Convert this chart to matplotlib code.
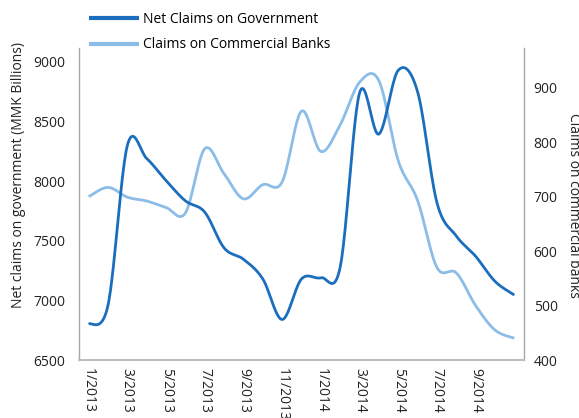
import numpy as np
import matplotlib
matplotlib.use("Agg")
import matplotlib.pyplot as plt

plt.rcParams['font.family'] = ['Open Sans', 'DejaVu Sans']

months = ["1/2013", "2/2013", "3/2013", "4/2013", "5/2013", "6/2013", "7/2013",
          "8/2013", "9/2013", "10/2013", "11/2013", "12/2013", "1/2014", "2/2014",
          "3/2014", "4/2014", "5/2014", "6/2014", "7/2014", "8/2014", "9/2014",
          "10/2014", "11/2014"]

net_claims_gov = [6800, 6960, 8300, 8190, 8005, 7835, 7740, 7440, 7345, 7180,
                  6840, 7180, 7190, 7280, 8740, 8395, 8930, 8750, 7820, 7540,
                  7370, 7160, 7045]

claims_comm_banks = [700, 717, 699, 692, 680, 670, 788, 742, 696, 722,
                     727, 857, 783, 832, 910, 913, 766, 693, 570, 560,
                     500, 455, 440]

dark_blue = "#1b6ebe"
light_blue = "#8bbde8"
spine_grey = "#bfbfbf"
text_col = "#222222"
fs = 10


def smooth(xs, ys, steps=24):
    """Catmull-Rom curve through the points (Excel-style smoothed line)."""
    xs = np.asarray(xs, float)
    ys = np.asarray(ys, float)
    px = np.concatenate([[xs[0]], xs, [xs[-1]]])
    py = np.concatenate([[ys[0]], ys, [ys[-1]]])
    out_x, out_y = [], []
    t = np.linspace(0, 1, steps, endpoint=False)
    for i in range(1, len(px) - 2):
        p0, p1, p2, p3 = (np.array([px[j], py[j]]) for j in (i - 1, i, i + 1, i + 2))
        c1 = p1 + (p2 - p0) / 6.0
        c2 = p2 - (p3 - p1) / 6.0
        b = ((1 - t) ** 3)[:, None] * p1 + (3 * (1 - t) ** 2 * t)[:, None] * c1 \
            + (3 * (1 - t) * t ** 2)[:, None] * c2 + (t ** 3)[:, None] * p2
        out_x.extend(b[:, 0])
        out_y.extend(b[:, 1])
    out_x.append(xs[-1])
    out_y.append(ys[-1])
    return np.array(out_x), np.array(out_y)


fig = plt.figure(figsize=(5.79, 4.18), dpi=100)
ax = fig.add_axes([79 / 579, 58 / 418, 445 / 579, 312 / 418])
ax2 = ax.twinx()

x = np.arange(len(months))
sx, sy = smooth(x, net_claims_gov)
l1, = ax.plot(sx, sy, color=dark_blue, lw=2.0, solid_capstyle='butt',
              label="Net Claims on Government", zorder=3)
sx2, sy2 = smooth(x, claims_comm_banks)
l2, = ax2.plot(sx2, sy2, color=light_blue, lw=2.0, solid_capstyle='butt',
               label="Claims on Commercial Banks", zorder=2)
ax.set_zorder(ax2.get_zorder() + 1)
ax.patch.set_visible(False)

ax.set_xlim(-0.5, len(months) - 0.5)
ax.set_ylim(6500, 9117)
ax2.set_ylim(400, 973)
ax.set_yticks([6500, 7000, 7500, 8000, 8500, 9000])
ax2.set_yticks([400, 500, 600, 700, 800, 900])
ax.set_xticks(x[:21:2])
ax.set_xticklabels(months[:21:2], rotation=270, va='top', ha='center')

for a in (ax, ax2):
    a.tick_params(length=0, labelsize=fs, colors=text_col)
    for s in a.spines.values():
        s.set_visible(False)
ax.tick_params(axis='y', pad=10)
ax.tick_params(axis='x', pad=6)
ax2.tick_params(axis='y', pad=7)
ax.spines['left'].set_visible(True)
ax.spines['left'].set_color("#a6a6a6")
ax.spines['left'].set_linewidth(1.0)
ax.spines['bottom'].set_visible(True)
ax.spines['bottom'].set_color(spine_grey)
ax.spines['bottom'].set_linewidth(1.5)
ax2.spines['right'].set_visible(True)
ax2.spines['right'].set_color("#a6a6a6")
ax2.spines['right'].set_linewidth(1.0)

fig.text(19 / 579, 1 - 175 / 418, "Net claims on government (MMK Billions)",
         rotation=90, ha='center', va='center', fontsize=fs, color=text_col)
fig.text(573 / 579, 1 - 205 / 418, "Claims on commercial banks",
         rotation=270, ha='center', va='center', fontsize=fs, color=text_col)

fig.legend(handles=[l1, l2], loc='upper left',
           bbox_to_anchor=(89 / 579, 1 - 12 / 418), frameon=False,
           fontsize=fs, handlelength=3.6, handletextpad=0.3,
           labelspacing=0.75, borderaxespad=0, borderpad=0)
for line in fig.legends[0].get_lines():
    line.set_linewidth(3.0)

fig.savefig("out.png", dpi=100)
